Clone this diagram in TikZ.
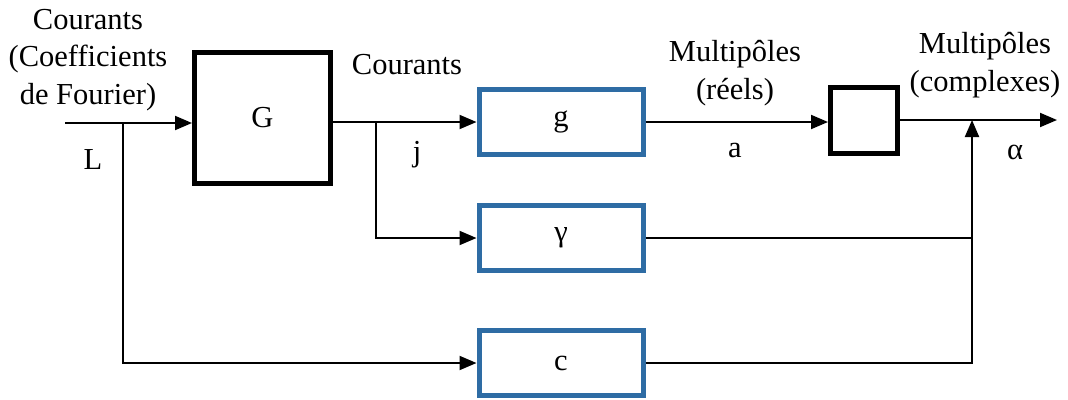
\documentclass[tikz,border=0pt]{standalone}
\usepackage{fontspec}
\setmainfont{Liberation Serif}
\definecolor{boxblue}{RGB}{46,108,164}
\usetikzlibrary{arrows.meta,positioning,calc}

\begin{document}
\begin{tikzpicture}[x=1pt, y=-1pt,
    font=\fontsize{30.5}{37.5}\selectfont,
    blackbox/.style={draw, line width=5pt, minimum width=136pt, minimum height=131pt, inner sep=0pt},
    bluebox/.style={draw=boxblue, line width=5pt, minimum width=164pt, minimum height=65pt, inner sep=0pt},
    flow/.style={line width=2pt, -{Triangle[length=17pt, width=14pt]}},
    wire/.style={line width=1.6pt}]
            \useasboundingbox (0,0) rectangle (1068,399);

            % Blocks
            \node[blackbox] (G) at (262.5,118) {G};
            \node[bluebox] (g) at (561,122) {g};
            \node[bluebox] (gam) at (561,238) {γ};
            \node[bluebox] (c) at (561,363) {c};
            \node[blackbox, minimum width=67pt, minimum height=66pt] (q) at (864,120.5) {};

            % Junction points
            \coordinate (in) at (65,123);
            \coordinate (Lb) at (123,123);
            \coordinate (jb) at (376,122);
            \coordinate (sum) at (972,120);
            \coordinate (out) at (1057,120);

            % Input and branches
            \draw[flow] (in) -- (in -| G.west);
            \draw[flow] (Lb) |- (c.west);
            \draw[flow] (G.east |- g.west) -- (g.west);
            \draw[flow] (jb) |- (gam.west);

            % Outputs
            \draw[flow] (g.east) -- (g.east -| q.west);
            \draw[flow] (q.east |- out) -- (out);
            \draw[wire] (gam.east) -- (gam.east -| sum);
            \draw[flow] (c.east) -| (sum);

            % Labels
            \node[align=center] (lin) at (88,60) {Courants\\(Coefficients\\de Fourier)};
            \node (lL) at (93,160) {L};
            \node (lcour) at (407,65) {Courants};
            \node (lj) at (417,155) {j};
            \node[align=center] (lreel) at (735,73) {Multipôles\\(réels)};
            \node (la) at (735,150) {a};
            \node[align=center] (lcplx) at (985,65) {Multipôles\\(complexes)};
            \node (lalpha) at (1015,152) {α};
        \end{tikzpicture}
\end{document}
